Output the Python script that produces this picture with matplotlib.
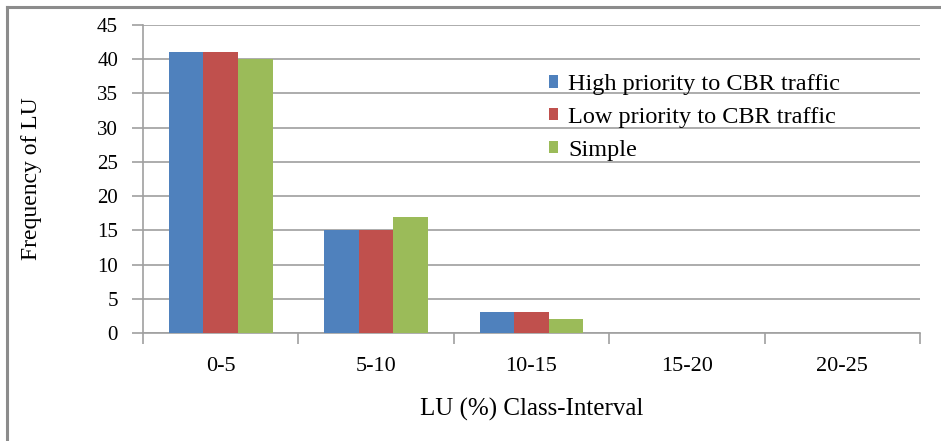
import numpy as np
import matplotlib
matplotlib.use('Agg')
import matplotlib.pyplot as plt
from matplotlib.lines import Line2D

# Datos
categorias = ['0-5', '5-10', '10-15', '15-20', '20-25']
series = ['High priority to CBR traffic', 'Low priority to CBR traffic', 'Simple']
alta = [41, 15, 3, 0, 0]
baja = [41, 15, 3, 0, 0]
simple = [40, 17, 2, 0, 0]
colores = ['#4F81BD', '#C0504D', '#9BBB59']

plt.rcParams['font.family'] = ['Liberation Serif', 'DejaVu Serif']

fig = plt.figure(figsize=(9.41, 4.41), dpi=100)
ax = fig.add_axes([143 / 941, 1 - 333 / 441, (920 - 143) / 941, (333 - 25) / 441])

x = np.arange(len(categorias))
ancho = 1 / 4.5
for i, (vals, nombre) in enumerate(zip([alta, baja, simple], series)):
    ax.bar(x + (i - 1) * ancho, vals, ancho, color=colores[i], label=nombre, zorder=3)

ax.set_xlim(-0.5, len(categorias) - 0.5)
ax.set_ylim(0, 45)
ax.set_yticks(range(0, 46, 5))
ax.set_xticks(x)
ax.set_xticklabels(categorias, fontsize=16)
ax.set_xticks(np.arange(-0.5, len(categorias)), minor=True)
ax.tick_params(axis='x', which='major', length=0, pad=17)
ax.tick_params(axis='x', which='minor', length=8, width=1.2, color='#A0A0A0')
ax.tick_params(axis='y', length=8, width=1.2, color='#A0A0A0', labelsize=15, pad=10)
ax.grid(axis='y', color='#A6A6A6', linewidth=1.3, zorder=0)

for lado in ['top', 'right']:
    ax.spines[lado].set_visible(False)
for lado in ['left', 'bottom']:
    ax.spines[lado].set_color('#A0A0A0')
    ax.spines[lado].set_linewidth(1.2)

ax.set_ylabel('Frequency of LU', fontsize=17)
ax.yaxis.set_label_coords(-0.13, 0.5)
ax.set_xlabel('LU (%) Class-Interval', fontsize=18)
ax.xaxis.set_label_coords(0.5, -0.21)

ax.legend(loc='upper left', bbox_to_anchor=(0.522, 0.84), frameon=False, fontsize=17.5,
          borderpad=0, borderaxespad=0, handlelength=0.4, handleheight=0.4,
          handletextpad=0.4, labelspacing=0.48)

# borde exterior (solo izquierdo y superior visibles)
fig.add_artist(Line2D([7 / 941, 7 / 941], [0, 1 - 7 / 441], transform=fig.transFigure,
                      color='#8C8C8C', linewidth=2.2))
fig.add_artist(Line2D([7 / 941, 1], [1 - 7 / 441, 1 - 7 / 441], transform=fig.transFigure,
                      color='#8C8C8C', linewidth=2.2))

fig.savefig('out.png', dpi=100)
